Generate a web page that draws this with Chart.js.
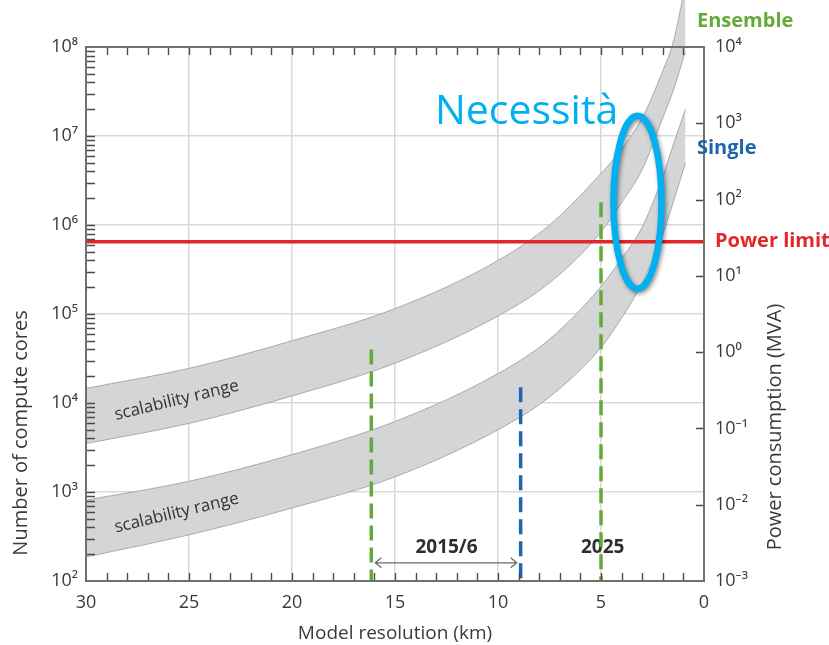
<!DOCTYPE html>
<html>
<head>
<meta charset="utf-8">
<script src="https://cdn.jsdelivr.net/npm/chart.js@4/dist/chart.umd.min.js"></script>
<style>
  html, body { margin: 0; padding: 0; background: #ffffff; }
  #wrap { width: 829px; height: 645px; position: relative; }
</style>
</head>
<body>
<div id="wrap"><canvas id="chart" width="829" height="645"></canvas></div>
<script>
// Model resolution sample points (km)
const resolutionKm = [30, 25, 20, 15, 10, 7.5, 5, 4, 3, 2, 1.5, 0.9];
// Scalability range of ensemble runs (number of compute cores)
const ensembleUpper = [1.46e4, 2.45e4, 5.0e4, 1.15e5, 4.0e5, 1.0e6, 3.8e6, 7.1e6, 1.6e7, 5.4e7, 1.12e8, 5.0e8];
const ensembleLower = [3.5e3, 5.9e3, 1.2e4, 2.8e4, 9.5e4, 2.24e5, 8.3e5, 1.78e6, 4.2e6, 1.6e7, 3.2e7, 8.9e7];
// Scalability range of single runs
const singleUpper = [8.1e2, 1.32e3, 2.63e3, 6.2e3, 2.14e4, 5.2e4, 2.04e5, 4.2e5, 9.5e5, 3.5e6, 7.9e6, 2.0e7];
const singleLower = [1.86e2, 3.3e2, 6.6e2, 1.48e3, 5.0e3, 1.17e4, 4.2e4, 9.0e4, 2.24e5, 7.9e5, 1.78e6, 5.0e6];

// Power limit expressed in compute cores
const powerLimitCores = 6.5e5;

// Resolution milestones: 2015/6 ensemble, 2015/6 single, 2025 ensemble
const milestoneKm = [16.15, 8.9, 5];
const milestoneTopCores = [4.0e4, 1.5e4, 1.8e6];

// Axis ticks and labels
const resolutionTicks = [30, 25, 20, 15, 10, 5, 0];
const coreTicks = [1e2, 1e3, 1e4, 1e5, 1e6, 1e7, 1e8];
const coreTickLabels = ['10²', '10³', '10⁴', '10⁵', '10⁶', '10⁷', '10⁸'];
const powerTicks = [1e-3, 1e-2, 1e-1, 1e0, 1e1, 1e2, 1e3, 1e4];
const powerTickLabels = ['10⁻³', '10⁻²', '10⁻¹', '10⁰', '10¹', '10²', '10³', '10⁴'];

const FONT = '"Open Sans", "Noto Sans", "DejaVu Sans", sans-serif';
const INK = '#3a3a3a';
const GREEN = '#63aa3a';
const BLUE = '#1d66ad';
const RED = '#e2262b';
const CYAN = '#00b0f0';
const BAND = '#d4d5d7';
const BAND_EDGE = '#9b9b9b';

const pts = (xs, ys) => xs.map((k, i) => ({ x: k, y: ys[i] }));

const bandLine = (label, values, fill) => ({
  label,
  data: pts(resolutionKm, values),
  borderColor: BAND_EDGE,
  borderWidth: 0.8,
  backgroundColor: BAND,
  pointRadius: 0,
  cubicInterpolationMode: 'monotone',
  fill,
  clip: false,
  order: 3
});

const milestoneColors = [GREEN, BLUE, GREEN];
const milestoneSets = milestoneKm.map((k, i) => ({
  label: 'milestone ' + k,
  data: [{ x: k, y: milestoneTopCores[i] }, { x: k, y: coreTicks[0] }],
  borderColor: milestoneColors[i],
  borderWidth: 3.5,
  borderDash: [15, 7],
  pointRadius: 0,
  fill: false,
  order: 1
}));

const datasets = [
  bandLine('Ensemble upper', ensembleUpper, false),
  bandLine('Ensemble lower', ensembleLower, '-1'),
  bandLine('Single upper', singleUpper, false),
  bandLine('Single lower', singleLower, '-1'),
  {
    label: 'Power limit',
    data: [{ x: 30, y: powerLimitCores }, { x: 0, y: powerLimitCores }],
    borderColor: RED,
    borderWidth: 3.5,
    pointRadius: 0,
    fill: false,
    order: 2
  },
  ...milestoneSets
];

function text(ctx, str, x, y, font, color, align, rot) {
  ctx.save();
  ctx.translate(x, y);
  if (rot) ctx.rotate(rot);
  ctx.font = font;
  ctx.fillStyle = color;
  ctx.textAlign = align || 'center';
  ctx.textBaseline = 'middle';
  ctx.fillText(str, 0, 0);
  ctx.restore();
}

const decorations = {
  id: 'decorations',
  beforeDatasetsDraw(chart) {
    const { ctx, scales: { x, y } } = chart;
    // arrow between the 2015/6 resolutions
    const ay = y.getPixelForValue(1.6e2);
    const x1 = x.getPixelForValue(milestoneKm[0]) + 4;
    const x2 = x.getPixelForValue(milestoneKm[1]) - 4;
    ctx.save();
    ctx.strokeStyle = '#6a6a6a';
    ctx.lineWidth = 1.3;
    ctx.beginPath();
    ctx.moveTo(x1, ay); ctx.lineTo(x2, ay);
    ctx.moveTo(x1 + 6, ay - 5); ctx.lineTo(x1, ay); ctx.lineTo(x1 + 6, ay + 5);
    ctx.moveTo(x2 - 6, ay - 5); ctx.lineTo(x2, ay); ctx.lineTo(x2 - 6, ay + 5);
    ctx.stroke();
    ctx.restore();
    const ty = y.getPixelForValue(2.4e2);
    text(ctx, '2015/6', x.getPixelForValue(12.5), ty, 'bold 19px ' + FONT, '#2e2e2e');
    text(ctx, '2025', x.getPixelForValue(4.92), ty, 'bold 19px ' + FONT, '#2e2e2e');
    // let the band fills run past the top frame up to the canvas edge
    chart.$plotTop = chart.chartArea.top;
    chart.chartArea.top = 0;
  },
  afterDatasetsDraw(chart) {
    chart.chartArea.top = chart.$plotTop;
    const { ctx, chartArea: a, scales: { x, y, y2 } } = chart;
    ctx.save();
    // inward tick marks on all four sides
    ctx.strokeStyle = '#4a4a4a';
    ctx.lineWidth = 1.4;
    ctx.beginPath();
    for (let k = 1; k < 30; k++) {
      const px = Math.round(x.getPixelForValue(k)) + 0.5;
      ctx.moveTo(px, a.bottom); ctx.lineTo(px, a.bottom - 8);
      ctx.moveTo(px, a.top); ctx.lineTo(px, a.top + 8);
    }
    for (let d = 2; d < 8; d++) {
      for (let m = 1; m < 10; m++) {
        if (m === 1 && d === 2) continue;
        const py = Math.round(y.getPixelForValue(m * Math.pow(10, d))) + 0.5;
        ctx.moveTo(a.left, py); ctx.lineTo(a.left + 9, py);
      }
    }
    for (let p = -2; p <= 3; p++) {
      const py = Math.round(y2.getPixelForValue(Math.pow(10, p))) + 0.5;
      ctx.moveTo(a.right, py); ctx.lineTo(a.right - 8, py);
    }
    ctx.stroke();
    // plot frame
    ctx.strokeStyle = '#707070';
    ctx.lineWidth = 2;
    ctx.strokeRect(a.left, a.top, a.right - a.left, a.bottom - a.top);
    ctx.restore();

    // band labels
    const rot = -13.5 * Math.PI / 180;
    text(ctx, 'scalability range', x.getPixelForValue(25.6), y.getPixelForValue(1.07e4), '17px ' + FONT, '#333', 'center', rot);
    text(ctx, 'scalability range', x.getPixelForValue(25.6), y.getPixelForValue(5.8e2), '17px ' + FONT, '#333', 'center', rot);

    // vertical axis titles
    text(ctx, 'Number of compute cores', 21, 433, '20px ' + FONT, INK, 'center', -Math.PI / 2);
    text(ctx, 'Power consumption (MVA)', 775, 427, '20px ' + FONT, INK, 'center', -Math.PI / 2);

    // right-hand series labels
    text(ctx, 'Ensemble', a.right - 7, 21, 'bold 20px ' + FONT, GREEN, 'left');
    text(ctx, 'Single', a.right - 7, 148, 'bold 20px ' + FONT, BLUE, 'left');
    text(ctx, 'Power limit', a.right + 11, y.getPixelForValue(powerLimitCores), 'bold 20px ' + FONT, RED, 'left');

    // highlighted region where the bands cross the power limit
    const cx = x.getPixelForValue(3.23);
    const cy = y.getPixelForValue(1.8e6);
    ctx.save();
    ctx.shadowColor = 'rgba(0,0,0,0.45)';
    ctx.shadowBlur = 4;
    ctx.shadowOffsetX = 1.5;
    ctx.shadowOffsetY = 2;
    ctx.strokeStyle = CYAN;
    ctx.lineWidth = 6.5;
    ctx.beginPath();
    ctx.ellipse(cx, cy, 24, 86.5, 0, 0, Math.PI * 2);
    ctx.stroke();
    ctx.restore();

    ctx.save();
    ctx.font = '41px ' + FONT;
    ctx.fillStyle = CYAN;
    ctx.textAlign = 'left';
    ctx.textBaseline = 'alphabetic';
    ctx.fillText('Necessità', x.getPixelForValue(13.06), y.getPixelForValue(1.37e7));
    ctx.restore();
  }
};

new Chart(document.getElementById('chart'), {
  type: 'line',
  data: { datasets },
  options: {
    responsive: false,
    animation: false,
    devicePixelRatio: 1,
    layout: { padding: { top: 47, left: 0, right: 0, bottom: 0 } },
    plugins: { legend: { display: false }, tooltip: { enabled: false } },
    scales: {
      x: {
        type: 'linear',
        position: 'bottom',
        reverse: true,
        min: 0,
        max: 30,
        afterBuildTicks: s => { s.ticks = resolutionTicks.map(v => ({ value: v })); },
        afterFit: s => { s.height = 64; },
        grid: { color: '#d9d9d9', lineWidth: 1.5, drawTicks: false },
        border: { display: false },
        ticks: { font: { family: FONT, size: 18 }, color: INK, padding: 11, maxRotation: 0, autoSkip: false },
        title: { display: true, text: 'Model resolution (km)', font: { family: FONT, size: 19 }, color: INK, padding: { top: 0, bottom: 0 } }
      },
      y: {
        type: 'logarithmic',
        position: 'left',
        min: coreTicks[0],
        max: coreTicks[coreTicks.length - 1],
        afterBuildTicks: s => { s.ticks = coreTicks.map(v => ({ value: v })); },
        afterFit: s => { s.width = 86; },
        grid: { color: '#d9d9d9', lineWidth: 1.5, drawTicks: false },
        border: { display: false },
        ticks: { callback: (v, i) => coreTickLabels[i], font: { family: FONT, size: 18 }, color: INK, padding: 8, autoSkip: false }
      },
      y2: {
        type: 'logarithmic',
        position: 'right',
        min: powerTicks[0],
        max: powerTicks[powerTicks.length - 1],
        afterBuildTicks: s => { s.ticks = powerTicks.map(v => ({ value: v })); },
        afterFit: s => { s.width = 125; },
        grid: { drawOnChartArea: false, drawTicks: false },
        border: { display: false },
        ticks: { callback: (v, i) => powerTickLabels[i], font: { family: FONT, size: 18 }, color: INK, padding: 11, autoSkip: false }
      }
    }
  },
  plugins: [decorations]
});
</script>
</body>
</html>
